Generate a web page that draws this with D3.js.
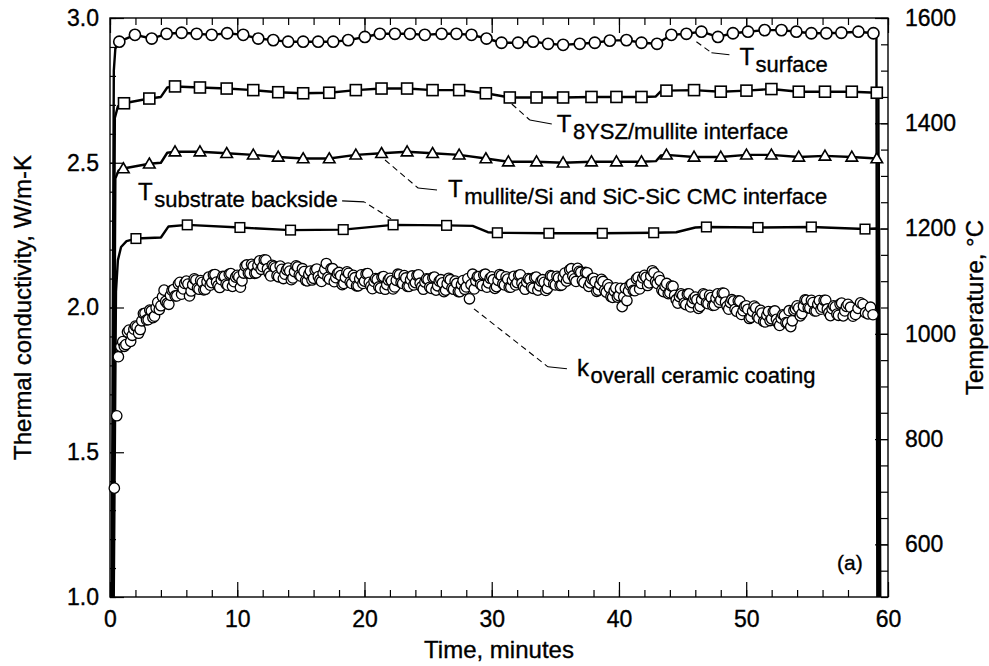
<!DOCTYPE html>
<html>
<head>
<meta charset="utf-8">
<script src="https://cdn.jsdelivr.net/npm/d3@7"></script>
<style>
  html, body { margin: 0; padding: 0; background: #fff; }
  svg { display: block; }
  text { font-family: "Liberation Sans", Arial, Helvetica, sans-serif; fill: #000; stroke: #000; stroke-width: 0.35px; }
</style>
</head>
<body>
<svg id="chart" width="989" height="666"></svg>
<script>
// ---------------- axis ticks ----------------
const xMajorTicks = [0, 10, 20, 30, 40, 50, 60];
const xMinorTicks = [0, 2, 4, 6, 8, 10, 12, 14, 16, 18, 20, 22, 24, 26, 28, 30, 32, 34, 36, 38, 40, 42, 44, 46, 48, 50, 52, 54, 56, 58, 60];
const kMajorTicks = [1.0, 1.5, 2.0, 2.5, 3.0];
const kMinorTicks = [1.0, 1.1, 1.2, 1.3, 1.4, 1.5, 1.6, 1.7, 1.8, 1.9, 2.0, 2.1, 2.2, 2.3, 2.4, 2.5, 2.6, 2.7, 2.8, 2.9, 3.0];
const tempMajorTicks = [600, 800, 1000, 1200, 1400, 1600];
const tempMinorTicks = [500, 550, 600, 650, 700, 750, 800, 850, 900, 950, 1000, 1050, 1100, 1150, 1200, 1250, 1300, 1350, 1400, 1450, 1500, 1550, 1600];

// ---------------- temperature series: [minutes, deg C] ----------------
// marked readings
const surfaceMarkers = [[0.73,1555],[1.96,1568],[3.28,1561],[4.45,1570],[5.63,1572],[6.81,1570],[7.99,1568],[9.21,1571],[10.47,1568],[11.65,1561],[12.83,1558],[14.00,1555],[15.18,1555],[16.36,1555],[17.54,1555],[18.72,1558],[20.03,1564],[21.21,1570],[22.39,1570],[23.57,1570],[24.74,1568],[26.06,1570],[27.23,1570],[28.41,1568],[29.59,1561],[30.77,1553],[32.07,1553],[33.25,1555],[34.43,1551],[35.61,1549],[36.92,1551],[38.10,1553],[39.28,1557],[40.59,1558],[41.77,1553],[42.99,1551],[44.12,1568],[45.30,1570],[46.48,1574],[47.78,1564],[48.96,1571],[50.14,1574],[51.45,1577],[52.77,1577],[53.94,1574],[55.12,1571],[56.30,1571],[57.48,1572],[58.52,1574],[59.27,1571]];
const yszMarkers = [[1.10,1438],[3.09,1447],[5.11,1470],[7.07,1468],[9.17,1466],[11.26,1463],[13.22,1459],[15.18,1457],[17.23,1458],[19.32,1463],[21.34,1466],[23.35,1466],[25.35,1463],[27.44,1463],[29.54,1457],[31.42,1449],[33.52,1449],[35.61,1449],[37.84,1450],[39.80,1450],[41.77,1450],[43.73,1462],[45.90,1463],[48.00,1460],[50.02,1462],[51.98,1465],[54.13,1460],[56.19,1460],[58.19,1460],[59.44,1458]];
const mulliteMarkers = [[1.05,1314],[3.09,1323],[5.11,1346],[7.07,1346],[9.17,1343],[11.26,1340],[13.22,1336],[15.18,1333],[17.23,1333],[19.32,1340],[21.34,1343],[23.35,1346],[25.35,1343],[27.44,1340],[29.54,1333],[31.31,1327],[33.52,1327],[35.61,1325],[37.84,1327],[39.80,1327],[41.77,1327],[43.73,1340],[45.90,1336],[48.00,1336],[50.02,1340],[51.98,1340],[54.13,1336],[56.19,1338],[58.19,1336],[59.44,1333]];
const substrateMarkers = [[2.04,1181],[6.07,1207],[10.21,1202],[14.19,1197],[18.33,1198],[22.25,1207],[26.45,1206],[30.44,1192],[34.49,1191],[38.69,1191],[42.73,1192],[46.87,1203],[50.93,1202],[55.12,1203],[58.85,1199]];

// unmarked trace points: heat-up ramp, steps between markers, cool-down
const surfaceTrace = [[0.12,420],[0.30,1500],[0.42,1542],[59.42,1571],[59.47,420]];
const yszTrace = [[0.17,420],[0.38,1410],[0.62,1432],[4.0,1450],[4.5,1468],[42.9,1451],[43.3,1461],[59.52,1458],[59.56,420]];
const mulliteTrace = [[0.22,420],[0.42,1295],[0.67,1310],[4.0,1325],[4.5,1344],[42.9,1328],[43.3,1339],[59.54,1333],[59.58,420]];
const substrateTrace = [[0.27,420],[0.47,1080],[0.62,1140],[0.87,1165],[1.30,1176],[4.0,1183],[4.6,1204],[28.5,1205],[29.7,1193],[44.5,1193],[46.0,1202],[59.40,1200],[59.55,1199],[59.62,420]];

// ---------------- overall thermal conductivity: [minutes, W/m-K] ----------------
const kOverall = [
 [0.34,1.376],[0.53,1.626],[0.66,1.830],[0.85,1.865],
 [1.000,1.882],[1.125,1.866],[1.250,1.872],[1.375,1.915],[1.500,1.922],[1.625,1.883],[1.750,1.904],[1.875,1.925],
 [2.000,1.936],[2.125,1.933],[2.250,1.911],[2.375,1.924],[2.500,1.954],[2.625,1.979],[2.750,1.980],[2.875,1.957],
 [3.000,1.958],[3.125,1.991],[3.250,1.988],[3.375,1.965],[3.500,1.970],[3.625,1.999],[3.750,2.018],[3.875,1.993],
 [4.000,2.006],[4.125,2.037],[4.250,2.060],[4.375,2.021],[4.500,2.014],[4.625,2.011],[4.750,2.042],[4.875,2.059],
 [5.000,2.062],[5.125,2.040],[5.250,2.040],[5.375,2.081],[5.500,2.087],[5.625,2.046],[5.750,2.064],[5.875,2.083],
 [6.000,2.091],[6.125,2.081],[6.250,2.040],[6.375,2.057],[6.500,2.079],[6.625,2.099],[6.750,2.095],[6.875,2.067],
 [7.000,2.063],[7.125,2.093],[7.250,2.087],[7.375,2.061],[7.500,2.063],[7.625,2.089],[7.750,2.105],[7.875,2.077],
 [8.000,2.086],[8.125,2.113],[8.250,2.114],[8.375,2.088],[8.500,2.076],[8.625,2.069],[8.750,2.096],[8.875,2.108],
 [9.000,2.107],[9.125,2.081],[9.250,2.077],[9.375,2.115],[9.500,2.117],[9.625,2.073],[9.750,2.089],[9.875,2.105],
 [10.000,2.111],[10.125,2.106],[10.250,2.070],[10.375,2.092],[10.500,2.119],[10.625,2.143],[10.750,2.147],[10.875,2.119],
 [11.000,2.118],[11.125,2.149],[11.250,2.143],[11.375,2.118],[11.500,2.120],[11.625,2.145],[11.750,2.161],[11.875,2.132],
 [12.000,2.141],[12.125,2.165],[12.250,2.164],[12.375,2.134],[12.500,2.119],[12.625,2.109],[12.750,2.146],[12.875,2.142],
 [13.000,2.137],[13.125,2.110],[13.250,2.106],[13.375,2.143],[13.500,2.132],[13.625,2.100],[13.750,2.115],[13.875,2.130],
 [14.000,2.136],[14.125,2.126],[14.250,2.096],[14.375,2.102],[14.500,2.124],[14.625,2.144],[14.750,2.140],[14.875,2.112],
 [15.000,2.108],[15.125,2.134],[15.250,2.124],[15.375,2.094],[15.500,2.092],[15.625,2.114],[15.750,2.126],[15.875,2.095],
 [16.000,2.101],[16.125,2.129],[16.250,2.133],[16.375,2.107],[16.500,2.096],[16.625,2.090],[16.750,2.118],[16.875,2.132],
 [17.000,2.152],[17.125,2.104],[17.250,2.098],[17.375,2.134],[17.500,2.134],[17.625,2.089],[17.750,2.103],[17.875,2.117],
 [18.000,2.121],[18.125,2.110],[18.250,2.079],[18.375,2.083],[18.500,2.104],[18.625,2.123],[18.750,2.118],[18.875,2.088],
 [19.000,2.083],[19.125,2.111],[19.250,2.103],[19.375,2.075],[19.500,2.075],[19.625,2.099],[19.750,2.113],[19.875,2.083],
 [20.000,2.091],[20.125,2.116],[20.250,2.117],[20.375,2.087],[20.500,2.074],[20.625,2.065],[20.750,2.090],[20.875,2.100],
 [21.000,2.097],[21.125,2.071],[21.250,2.067],[21.375,2.105],[21.500,2.107],[21.625,2.063],[21.750,2.079],[21.875,2.095],
 [22.000,2.101],[22.125,2.092],[22.250,2.064],[22.375,2.071],[22.500,2.094],[22.625,2.115],[22.750,2.113],[22.875,2.086],
 [23.000,2.083],[23.125,2.110],[23.250,2.102],[23.375,2.073],[23.500,2.073],[23.625,2.096],[23.750,2.109],[23.875,2.078],
 [24.000,2.086],[24.125,2.111],[24.250,2.113],[24.375,2.084],[24.500,2.072],[24.625,2.063],[24.750,2.088],[24.875,2.099],
 [25.000,2.097],[25.125,2.070],[25.250,2.066],[25.375,2.103],[25.500,2.105],[25.625,2.060],[25.750,2.075],[25.875,2.091],
 [26.000,2.096],[26.125,2.085],[26.250,2.055],[26.375,2.060],[26.500,2.082],[26.625,2.101],[26.750,2.096],[26.875,2.067],
 [27.000,2.063],[27.125,2.091],[27.250,2.083],[27.375,2.055],[27.500,2.055],[27.625,2.079],[27.750,2.093],[27.875,2.063],
 [28.000,2.071],[28.125,2.100],[28.250,2.030],[28.375,2.079],[28.500,2.115],[28.625,2.064],[28.750,2.092],[28.875,2.107],
 [29.000,2.107],[29.125,2.080],[29.250,2.076],[29.375,2.113],[29.500,2.115],[29.625,2.070],[29.750,2.085],[29.875,2.101],
 [30.000,2.106],[30.125,2.096],[30.250,2.066],[30.375,2.072],[30.500,2.094],[30.625,2.114],[30.750,2.110],[30.875,2.082],
 [31.000,2.078],[31.125,2.106],[31.250,2.098],[31.375,2.070],[31.500,2.070],[31.625,2.094],[31.750,2.108],[31.875,2.078],
 [32.000,2.086],[32.125,2.111],[32.250,2.113],[32.375,2.084],[32.500,2.072],[32.625,2.063],[32.750,2.088],[32.875,2.100],
 [33.000,2.097],[33.125,2.070],[33.250,2.066],[33.375,2.103],[33.500,2.105],[33.625,2.060],[33.750,2.075],[33.875,2.091],
 [34.000,2.096],[34.125,2.087],[34.250,2.059],[34.375,2.066],[34.500,2.089],[34.625,2.110],[34.750,2.108],[34.875,2.081],
 [35.000,2.078],[35.125,2.108],[35.250,2.102],[35.375,2.076],[35.500,2.078],[35.625,2.104],[35.750,2.119],[35.875,2.091],
 [36.000,2.101],[36.125,2.130],[36.250,2.134],[36.375,2.109],[36.500,2.099],[36.625,2.090],[36.750,2.135],[36.875,2.125],
 [37.000,2.122],[37.125,2.093],[37.250,2.086],[37.375,2.121],[37.500,2.120],[37.625,2.073],[37.750,2.085],[37.875,2.098],
 [38.000,2.101],[38.125,2.089],[38.250,2.056],[38.375,2.060],[38.500,2.079],[38.625,2.097],[38.750,2.090],[38.875,2.060],
 [39.000,2.053],[39.125,2.079],[39.250,2.068],[39.375,2.038],[39.500,2.035],[39.625,2.057],[39.750,2.068],[39.875,2.036],
 [40.000,2.041],[40.125,2.066],[40.250,2.003],[40.375,2.037],[40.500,2.066],[40.625,2.024],[40.750,2.057],[40.875,2.077],
 [41.000,2.082],[41.125,2.059],[41.250,2.058],[41.375,2.099],[41.500,2.104],[41.625,2.064],[41.750,2.083],[41.875,2.102],
 [42.000,2.111],[42.125,2.104],[42.250,2.076],[42.375,2.085],[42.500,2.109],[42.625,2.127],[42.750,2.120],[42.875,2.090],
 [43.000,2.083],[43.125,2.106],[43.250,2.093],[43.375,2.060],[43.500,2.055],[43.625,2.074],[43.750,2.083],[43.875,2.048],
 [44.000,2.051],[44.125,2.074],[44.250,2.073],[44.375,2.042],[44.500,2.027],[44.625,2.015],[44.750,2.038],[44.875,2.047],
 [45.000,2.042],[45.125,2.015],[45.250,2.010],[45.375,2.046],[45.500,2.047],[45.625,2.002],[45.750,2.017],[45.875,2.031],
 [46.000,2.036],[46.125,2.027],[46.250,1.997],[46.375,2.004],[46.500,2.027],[46.625,2.047],[46.750,2.044],[46.875,2.016],
 [47.000,2.013],[47.125,2.042],[47.250,2.034],[47.375,2.007],[47.500,2.008],[47.625,2.032],[47.750,2.047],[47.875,2.018],
 [48.000,2.026],[48.125,2.050],[48.250,2.049],[48.375,2.019],[48.500,2.004],[48.625,1.994],[48.750,2.017],[48.875,2.027],
 [49.000,2.022],[49.125,1.994],[49.250,1.987],[49.375,2.023],[49.500,2.022],[49.625,1.976],[49.750,1.989],[49.875,2.003],
 [50.000,2.006],[50.125,1.994],[50.250,1.962],[50.375,1.966],[50.500,1.987],[50.625,2.005],[50.750,1.999],[50.875,1.969],
 [51.000,1.963],[51.125,1.990],[51.250,1.981],[51.375,1.952],[51.500,1.950],[51.625,1.973],[51.750,1.986],[51.875,1.955],
 [52.000,1.961],[52.125,1.986],[52.250,1.988],[52.375,1.959],[52.500,1.947],[52.625,1.938],[52.750,1.963],[52.875,1.975],
 [53.000,1.972],[53.125,1.948],[53.250,1.947],[53.375,1.989],[53.500,1.934],[53.625,1.954],[53.750,1.990],[53.875,1.995],
 [54.000,2.006],[54.125,1.998],[54.250,1.971],[54.375,1.979],[54.500,2.004],[54.625,2.026],[54.750,2.025],[54.875,1.999],
 [55.000,1.998],[55.125,2.025],[55.250,2.017],[55.375,1.988],[55.500,1.988],[55.625,2.011],[55.750,2.024],[55.875,1.994],
 [56.000,2.001],[56.125,2.025],[56.250,2.025],[56.375,1.995],[56.500,1.982],[56.625,1.972],[56.750,1.996],[56.875,2.006],
 [57.000,2.002],[57.125,1.977],[57.250,1.973],[57.375,2.012],[57.500,2.015],[57.625,1.971],[57.750,1.988],[57.875,2.004],
 [58.000,2.011],[58.125,2.001],[58.250,1.970],[58.375,1.976],[58.500,1.997],[58.625,2.016],[58.750,2.011],[58.875,1.982],
 [59.000,1.978],[59.125,2.001],[59.250,1.975]
];

// ---------------- layout ----------------
const FONT = '"Liberation Sans", Arial, Helvetica, sans-serif';
const plot = { left: 110, right: 888, top: 18, bottom: 597 };
const svg = d3.select('#chart');

const x = d3.scaleLinear().domain([0, 58, 60]).range([plot.left, 848, plot.right]);
const yK = d3.scaleLinear().domain([1, 3]).range([plot.bottom, plot.top]);
const yT = d3.scaleLinear().domain([500, 1600]).range([plot.bottom, plot.top]);

svg.append('defs').append('clipPath').attr('id', 'plotClip')
  .append('rect')
  .attr('x', plot.left).attr('y', plot.top)
  .attr('width', plot.right - plot.left).attr('height', plot.bottom - plot.top);

// ---------------- axes (ticks point into the frame) ----------------
function tidy(g, fontSize) {
  g.select('.domain').remove();
  g.attr('font-family', FONT).attr('font-size', fontSize);
  g.selectAll('line').attr('stroke', '#000').attr('stroke-width', 1.2);
  g.selectAll('text').attr('fill', '#000');
}
const axes = svg.append('g');

axes.append('g').attr('transform', `translate(0,${plot.bottom})`)
  .call(d3.axisBottom(x).tickValues(xMinorTicks).tickSizeInner(-7).tickSizeOuter(0).tickFormat(''))
  .call(g => tidy(g, 23));
axes.append('g').attr('transform', `translate(0,${plot.bottom})`)
  .call(d3.axisBottom(x).tickValues(xMajorTicks).tickSizeInner(-15).tickSizeOuter(0).tickPadding(14).tickFormat(d3.format('d')))
  .call(g => tidy(g, 23));
axes.append('g').attr('transform', `translate(0,${plot.top})`)
  .call(d3.axisTop(x).tickValues(xMinorTicks).tickSizeInner(-7).tickSizeOuter(0).tickFormat(''))
  .call(g => tidy(g, 23));
axes.append('g').attr('transform', `translate(0,${plot.top})`)
  .call(d3.axisTop(x).tickValues(xMajorTicks).tickSizeInner(-15).tickSizeOuter(0).tickFormat(''))
  .call(g => tidy(g, 23));

axes.append('g').attr('transform', `translate(${plot.left},0)`)
  .call(d3.axisLeft(yK).tickValues(kMinorTicks).tickSizeInner(-6).tickSizeOuter(0).tickFormat(''))
  .call(g => tidy(g, 23));
axes.append('g').attr('transform', `translate(${plot.left},0)`)
  .call(d3.axisLeft(yK).tickValues(kMajorTicks).tickSizeInner(-14).tickSizeOuter(0).tickPadding(11).tickFormat(d3.format('.1f')))
  .call(g => tidy(g, 23));

axes.append('g').attr('transform', `translate(${plot.right},0)`)
  .call(d3.axisRight(yT).tickValues(tempMinorTicks).tickSizeInner(-7).tickSizeOuter(0).tickFormat(''))
  .call(g => tidy(g, 23));
axes.append('g').attr('transform', `translate(${plot.right},0)`)
  .call(d3.axisRight(yT).tickValues(tempMajorTicks).tickSizeInner(-13).tickSizeOuter(0).tickPadding(17).tickFormat(d3.format('d')))
  .call(g => tidy(g, 23));

// frame
svg.append('rect')
  .attr('x', plot.left).attr('y', plot.top)
  .attr('width', plot.right - plot.left).attr('height', plot.bottom - plot.top)
  .attr('fill', 'none').attr('stroke', '#000').attr('stroke-width', 1.4);

// axis titles
svg.append('text')
  .attr('transform', `translate(31,${(plot.top + plot.bottom) / 2}) rotate(-90)`)
  .attr('text-anchor', 'middle').attr('font-size', 24)
  .text('Thermal conductivity, W/m-K');
svg.append('text')
  .attr('transform', `translate(983,${(plot.top + plot.bottom) / 2}) rotate(-90)`)
  .attr('text-anchor', 'middle').attr('font-size', 24)
  .text('Temperature, \u00B0C');
svg.append('text')
  .attr('x', (plot.left + plot.right) / 2).attr('y', 658)
  .attr('text-anchor', 'middle').attr('font-size', 24)
  .text('Time, minutes');

// ---------------- temperature traces ----------------
const merge = (a, b) => a.concat(b).sort((p, q) => p[0] - q[0]);
const tLine = d3.line().x(d => x(d[0])).y(d => yT(d[1]));
const traces = svg.append('g').attr('clip-path', 'url(#plotClip)');
[
  merge(substrateMarkers, substrateTrace),
  merge(mulliteMarkers, mulliteTrace),
  merge(yszMarkers, yszTrace),
  merge(surfaceMarkers, surfaceTrace)
].forEach(pts => {
  traces.append('path').datum(pts)
    .attr('d', tLine)
    .attr('fill', 'none').attr('stroke', '#000')
    .attr('stroke-width', 2.4).attr('stroke-linejoin', 'round');
});

// markers
const marks = svg.append('g').attr('fill', '#fff').attr('stroke', '#000');
marks.append('g').selectAll('circle').data(surfaceMarkers).join('circle')
  .attr('cx', d => x(d[0])).attr('cy', d => yT(d[1])).attr('r', 5.6).attr('stroke-width', 1.6);
marks.append('g').selectAll('rect').data(yszMarkers).join('rect')
  .attr('x', d => x(d[0]) - 5.5).attr('y', d => yT(d[1]) - 5.5)
  .attr('width', 11).attr('height', 11).attr('stroke-width', 1.6);
marks.append('g').selectAll('path').data(mulliteMarkers).join('path')
  .attr('transform', d => `translate(${x(d[0])},${yT(d[1])})`)
  .attr('d', 'M0,-5.8L5.8,4.2L-5.8,4.2Z').attr('stroke-width', 1.6);
marks.append('g').selectAll('rect').data(substrateMarkers).join('rect')
  .attr('x', d => x(d[0]) - 4.8).attr('y', d => yT(d[1]) - 4.8)
  .attr('width', 9.6).attr('height', 9.6).attr('stroke-width', 1.5);

// overall conductivity scatter (left axis)
marks.append('g').selectAll('circle').data(kOverall).join('circle')
  .attr('cx', d => x(d[0])).attr('cy', d => yK(d[1])).attr('r', 5.2).attr('stroke-width', 1.3);

// ---------------- callouts ----------------
// each leader starts next to a plotted reading; offsets are in pixels
const callouts = [
  { at: [46.48, 1574], y: yT, path: [[-5, 10], [10, 21], [28, 23]], text: [38, 33], main: 'T', sub: 'surface' },
  { at: [31.42, 1449], y: yT, path: [[2, 6.5], [20, 22.5], [42, 26.5]], text: [47, 34.5], main: 'T', sub: '8YSZ/mullite interface' },
  { at: [21.34, 1343], y: yT, path: [[3.5, 6.7], [36.5, 34.7], [55.5, 36.7]], text: [66.5, 43.7], main: 'T', sub: 'mullite/Si and SiC-SiC CMC interface' },
  { at: [22.25, 1207], y: yT, path: [[-2, -6], [-29, -23], [-51, -24]], text: [-255, -25], main: 'T', sub: 'substrate backside' },
  { at: [28.25, 2.03], y: yK, path: [[4.5, 10], [78.5, 68], [97.5, 70]], text: [107.5, 77], main: 'k', sub: 'overall ceramic coating' }
];
const notes = svg.append('g');
callouts.forEach(c => {
  const ax = x(c.at[0]), ay = c.y(c.at[1]);
  const p = c.path.map(o => [ax + o[0], ay + o[1]]);
  notes.append('line')
    .attr('x1', p[0][0]).attr('y1', p[0][1]).attr('x2', p[1][0]).attr('y2', p[1][1])
    .attr('stroke', '#000').attr('stroke-width', 1.1).attr('stroke-dasharray', '6,4');
  notes.append('line')
    .attr('x1', p[1][0]).attr('y1', p[1][1]).attr('x2', p[2][0]).attr('y2', p[2][1])
    .attr('stroke', '#000').attr('stroke-width', 1.1);
  const t = notes.append('text')
    .attr('x', ax + c.text[0]).attr('y', ay + c.text[1]).attr('font-size', 24);
  t.append('tspan').text(c.main);
  t.append('tspan').attr('dx', 1.5).attr('dy', 7).attr('font-size', 22).text(c.sub);
});

// panel tag
svg.append('text').attr('x', 837).attr('y', 570).attr('font-size', 21).text('(a)');
</script>
</body>
</html>
